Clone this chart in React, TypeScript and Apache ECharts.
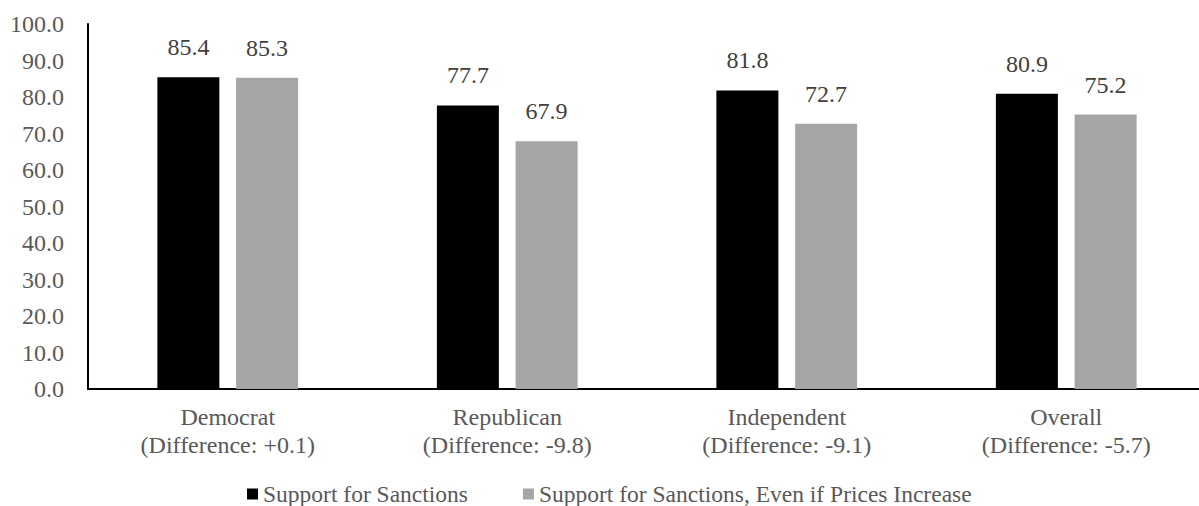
import React, { useEffect, useRef } from "react";
import * as echarts from "echarts";

const categories = [
  "Democrat\n(Difference: +0.1)",
  "Republican\n(Difference: -9.8)",
  "Independent\n(Difference: -9.1)",
  "Overall\n(Difference: -5.7)",
];
const seriesNames = ["Support for Sanctions", "Support for Sanctions, Even if Prices Increase"];
const supportValues = [85.4, 77.7, 81.8, 80.9];
const supportEvenIfPricesValues = [85.3, 67.9, 72.7, 75.2];

const FONT = "'Liberation Serif', 'Times New Roman', serif";

export default function App() {
  const ref = useRef<HTMLDivElement>(null);
  useEffect(() => {
    if (!ref.current) return;
    const chart = echarts.init(ref.current, undefined, { renderer: "svg" });
    const labelStyle = {
      show: true,
      position: "top" as const,
      distance: 18,
      fontFamily: FONT,
      fontSize: 24,
      color: "#404040",
      formatter: (p: any) => Number(p.value).toFixed(1),
    };
    chart.setOption({
      animation: false,
      textStyle: { fontFamily: FONT },
      grid: {
        left: 88,
        top: 24,
        width: 1118,
        height: 365,
        containLabel: false,
        outerBoundsMode: "none",
      },
      legend: {
        data: seriesNames,
        top: 481,
        left: 247,
        padding: 0,
        itemWidth: 11,
        itemHeight: 11,
        itemGap: 55,
        icon: "rect",
        textStyle: { fontFamily: FONT, fontSize: 23.5, color: "#595959", lineHeight: 26 },
      },
      xAxis: {
        type: "category",
        data: categories,
        axisLine: { show: true, lineStyle: { color: "#000", width: 2 } },
        axisTick: { show: false },
        axisLabel: {
          fontFamily: FONT,
          fontSize: 24,
          color: "#595959",
          lineHeight: 28,
          margin: 14,
          interval: 0,
        },
      },
      yAxis: {
        type: "value",
        min: 0,
        max: 100,
        interval: 10,
        axisLine: { show: true, lineStyle: { color: "#000", width: 2 } },
        axisTick: { show: false },
        splitLine: { show: false },
        axisLabel: {
          fontFamily: FONT,
          fontSize: 24,
          color: "#595959",
          margin: 24,
          formatter: (v: number) => v.toFixed(1),
        },
      },
      series: [
        {
          name: seriesNames[0],
          type: "bar",
          data: supportValues,
          barWidth: 62,
          barGap: "27%",
          itemStyle: { color: "#000000" },
          label: labelStyle,
        },
        {
          name: seriesNames[1],
          type: "bar",
          data: supportEvenIfPricesValues,
          barWidth: 62,
          barGap: "27%",
          itemStyle: { color: "#a5a5a5" },
          label: labelStyle,
        },
      ],
    });
    return () => chart.dispose();
  }, []);
  return (
    <div
      ref={ref}
      style={{ position: "fixed", left: 0, top: 0, width: 1199, height: 506, background: "#fff" }}
    />
  );
}
